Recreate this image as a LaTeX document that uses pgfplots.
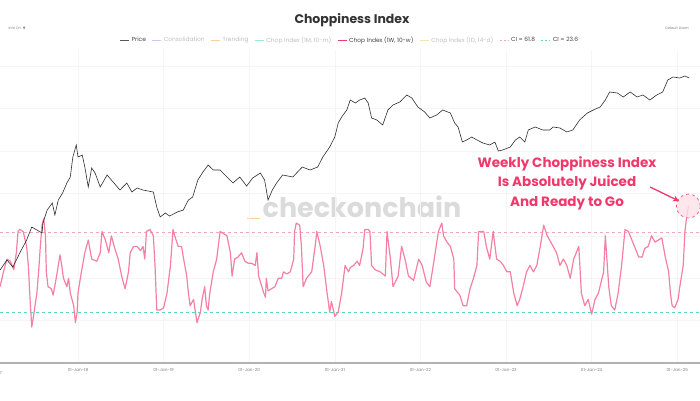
\documentclass[border=0pt]{standalone}
\usepackage{pgfplots}
\pgfplotsset{compat=1.18}
\usepackage{fontspec}
\setmainfont{Poppins}
\newfontfamily\dejavu{DejaVu Sans}
\usetikzlibrary{arrows.meta}
\definecolor{chopc}{RGB}{245,128,163}
\definecolor{annc}{RGB}{240,56,107}
\definecolor{cihi}{RGB}{244,166,189}
\definecolor{cilo}{RGB}{80,222,192}
\definecolor{pricec}{RGB}{45,45,45}
\definecolor{lav}{RGB}{200,200,240}
\definecolor{orng}{RGB}{248,208,160}
\definecolor{teal1}{RGB}{160,232,208}
\definecolor{yel}{RGB}{245,230,176}
\definecolor{txtgray}{RGB}{190,190,190}
\definecolor{titlec}{RGB}{51,51,51}
\begin{document}
\begin{tikzpicture}
\path[use as bounding box] (0,0) rectangle (700pt,400pt);
% ---- title and header texts
\node[font=\fontsize{12.5}{14}\selectfont\bfseries, text=titlec] at (352pt,380pt) {Choppiness Index};
\node[font=\fontsize{3.5}{4}\selectfont, text=gray] at (17pt,372pt) {Info On \ {\dejavu ▼}};
\node[font=\fontsize{3.5}{4}\selectfont, text=gray] at (677pt,372pt) {Default Zoom};
\node[font=\fontsize{4.2}{5}\selectfont, text=gray] at (-8pt,27pt) {01-Jan-17};
% ---- watermark
\node[font=\fontsize{27}{29}\selectfont\bfseries, text=black!14] at (362pt,193pt) {checkonchain};
\draw[orng, line width=1pt] (247pt,182pt) -- (260pt,182pt);
% ---- choppiness axis
\begin{axis}[
  at={(0pt,37pt)}, anchor=south west,
  scale only axis, width=700pt, height=313pt,
  xmin=2017.089, xmax=2025.266, ymin=0, ymax=147.6,
  axis x line*=bottom, axis y line*=left,
  y axis line style={draw=none},
  x axis line style={draw=black!30, line width=1.4pt},
  xtick={2018,2019,2020,2021,2022,2023,2024,2025},
  xticklabels={01-Jan-18,01-Jan-19,01-Jan-20,01-Jan-21,01-Jan-22,01-Jan-23,01-Jan-24,01-Jan-25},
  xticklabel style={font=\fontsize{4.2}{5}\selectfont, text=gray, yshift=-2pt},
  ytick={0,20,40,60,80,100,120,140}, yticklabels={},
  major tick length=0pt,
  xmajorgrids, ymajorgrids,
  grid style={black!4, line width=0.4pt},
  clip=false,
  legend style={at={(0.5,1)}, anchor=south, yshift=2pt, draw=none, fill=none,
    font=\fontsize{5.9}{6.5}\selectfont, legend columns=-1,
    /tikz/every even column/.append style={column sep=4pt}},
  legend image code/.code={\draw[#1] (0pt,0pt) -- (9pt,0pt);},
]
\addlegendimage{black!65, line width=0.8pt}\addlegendentry{\textcolor{black!75}{Price}}
\addlegendimage{lav, line width=0.8pt}\addlegendentry{\textcolor{txtgray}{Consolidation}}
\addlegendimage{orng, line width=0.8pt}\addlegendentry{\textcolor{txtgray}{Trending}}
\addlegendimage{teal1, line width=0.8pt}\addlegendentry{\textcolor{txtgray}{Chop Index (1M, 10-m)}}
\addlegendimage{annc, line width=0.8pt}\addlegendentry{\textcolor{black!75}{Chop Index (1W, 10-w)}}
\addlegendimage{yel, line width=0.8pt}\addlegendentry{\textcolor{txtgray}{Chop Index (1D, 14-d)}}
\addlegendimage{cihi, line width=0.8pt, dash pattern=on 2pt off 2pt}\addlegendentry{\textcolor{black!75}{CI = 61.8}}
\addlegendimage{cilo, line width=0.8pt, dash pattern=on 2pt off 2pt}\addlegendentry{\textcolor{black!75}{CI = 23.6}}
% CI levels
\addplot[forget plot, cihi, line width=0.8pt, dash pattern=on 3pt off 3pt] coordinates {(2017.089,61.8) (2025.266,61.8)};
\addplot[forget plot, cilo, line width=1pt, dash pattern=on 3pt off 3pt] coordinates {(2017.089,23.6) (2025.266,23.6)};
% weekly chop index
\addplot[forget plot, chopc, line width=1.2pt, line join=round] coordinates {
(2017.09,36) (2017.13,43) (2017.17,49) (2017.21,48) (2017.25,44) (2017.28,52) (2017.30,62) (2017.32,63)
(2017.36,62) (2017.40,55) (2017.42,46) (2017.44,30) (2017.46,17) (2017.48,22) (2017.52,33) (2017.54,43)
(2017.56,55) (2017.58,65) (2017.60,68) (2017.62,60) (2017.63,43) (2017.65,36) (2017.69,35) (2017.71,32)
(2017.75,41) (2017.79,51) (2017.81,46) (2017.83,40) (2017.87,36) (2017.89,40) (2017.91,33) (2017.95,27)
(2017.97,19) (2017.99,24) (2018.00,33) (2018.04,43) (2018.08,52) (2018.12,58) (2018.16,49) (2018.22,48)
(2018.26,52) (2018.28,62) (2018.32,58) (2018.36,52) (2018.39,60) (2018.43,54) (2018.47,49) (2018.51,41)
(2018.55,35) (2018.59,43) (2018.61,52) (2018.65,55) (2018.69,55) (2018.73,53) (2018.76,55) (2018.78,49)
(2018.80,62) (2018.84,63) (2018.88,60) (2018.90,46) (2018.92,25) (2018.96,25) (2019.00,26) (2019.04,33)
(2019.08,46) (2019.11,63) (2019.13,60) (2019.17,55) (2019.21,55) (2019.23,50) (2019.27,41) (2019.29,33)
(2019.31,27) (2019.35,30) (2019.39,19) (2019.43,24) (2019.45,30) (2019.48,36) (2019.50,27) (2019.52,25)
(2019.54,33) (2019.58,43) (2019.62,49) (2019.66,62) (2019.70,61) (2019.74,60) (2019.78,52) (2019.80,41)
(2019.83,49) (2019.87,50) (2019.91,52) (2019.95,48) (2019.99,47) (2020.03,47) (2020.07,46) (2020.09,52)
(2020.11,41) (2020.17,33) (2020.19,31) (2020.20,40) (2020.22,34) (2020.26,35) (2020.30,36) (2020.34,40)
(2020.38,40) (2020.40,43) (2020.44,42) (2020.48,43) (2020.52,49) (2020.53,62) (2020.55,66) (2020.59,65)
(2020.61,55) (2020.63,36) (2020.67,40) (2020.73,43) (2020.77,55) (2020.79,62) (2020.83,55) (2020.87,46)
(2020.91,33) (2020.94,24) (2020.96,29) (2021.00,22) (2021.04,24) (2021.08,33) (2021.12,46) (2021.16,43)
(2021.18,45) (2021.22,46) (2021.26,48) (2021.29,46) (2021.33,54) (2021.35,63) (2021.39,63) (2021.41,62)
(2021.43,46) (2021.47,44) (2021.53,43) (2021.59,41) (2021.61,62) (2021.65,49) (2021.68,36) (2021.74,41)
(2021.78,55) (2021.82,49) (2021.86,41) (2021.92,39) (2021.98,49) (2022.02,46) (2022.07,38) (2022.11,36)
(2022.15,46) (2022.21,62) (2022.25,66) (2022.27,60) (2022.31,57) (2022.35,55) (2022.39,49) (2022.40,35)
(2022.46,32) (2022.50,27) (2022.54,27) (2022.58,35) (2022.62,40) (2022.66,46) (2022.68,62) (2022.74,62)
(2022.77,55) (2022.81,49) (2022.85,62) (2022.89,49) (2022.93,48) (2022.97,46) (2023.01,43) (2023.05,43)
(2023.09,33) (2023.13,27) (2023.16,30) (2023.20,36) (2023.24,43) (2023.28,46) (2023.32,43) (2023.36,46)
(2023.40,55) (2023.44,65) (2023.48,60) (2023.51,58) (2023.55,55) (2023.59,52) (2023.63,46) (2023.67,49)
(2023.71,46) (2023.75,40) (2023.79,49) (2023.85,55) (2023.88,33) (2023.92,27) (2023.96,30) (2024.00,23)
(2024.04,30) (2024.08,33) (2024.14,43) (2024.16,60) (2024.20,36) (2024.23,27) (2024.27,25) (2024.31,33)
(2024.35,46) (2024.39,63) (2024.43,62) (2024.47,58) (2024.51,54) (2024.55,50) (2024.59,50) (2024.62,54)
(2024.66,55) (2024.70,60) (2024.74,57) (2024.78,58) (2024.82,59) (2024.86,50) (2024.90,43) (2024.92,33)
(2024.94,27) (2024.97,26) (2025.01,30) (2025.03,36) (2025.07,46) (2025.09,62) (2025.11,69) (2025.13,74)
};
% highlight
\draw[annc!80, dashed, line width=0.7pt, fill=annc!15, fill opacity=0.8] (axis cs:2025.13,74) circle[radius=12pt];
\end{axis}
% ---- price axis (log)
\begin{axis}[
  at={(0pt,37pt)}, anchor=south west,
  scale only axis, width=700pt, height=313pt,
  xmin=2017.089, xmax=2025.266, ymode=log, ymin=84, ymax=211800,
  axis lines=none,
]
\addplot[pricec, line width=0.6pt] coordinates {
(2017.09,861) (2017.17,1105) (2017.24,928) (2017.32,1318) (2017.40,1823) (2017.46,2524) (2017.52,2342)
(2017.58,2173) (2017.59,2790) (2017.64,3863) (2017.70,4603) (2017.73,3409) (2017.77,4963) (2017.82,5911)
(2017.87,7593) (2017.91,8825) (2017.94,14550) (2017.98,19660) (2018.00,14550) (2018.05,15300) (2018.08,11330)
(2018.12,6870) (2018.16,11050) (2018.20,9750) (2018.26,6870) (2018.34,9280) (2018.41,7786) (2018.49,6370)
(2018.57,7593) (2018.63,6060) (2018.69,6700) (2018.76,6370) (2018.88,6060) (2018.92,4165) (2018.96,3243)
(2019.02,3583) (2019.07,3325) (2019.16,3674) (2019.23,3863) (2019.29,4963) (2019.34,5350) (2019.40,8186)
(2019.46,10000) (2019.52,11910) (2019.58,10510) (2019.66,10510) (2019.74,8825) (2019.81,7593) (2019.89,8825)
(2019.97,7042) (2020.04,8606) (2020.13,9750) (2020.18,8186) (2020.22,4963) (2020.27,6370) (2020.32,7593)
(2020.39,9280) (2020.51,8825) (2020.62,11330) (2020.71,10510) (2020.80,11330) (2020.86,14550) (2020.94,18690)
(2021.00,24010) (2021.04,34090) (2021.08,39620) (2021.14,47200) (2021.18,60600) (2021.24,56230) (2021.29,60600)
(2021.35,63700) (2021.39,56230) (2021.43,38640) (2021.49,36750) (2021.56,32430) (2021.62,47200) (2021.68,53500)
(2021.76,57660) (2021.84,68700) (2021.90,63700) (2021.97,50880) (2022.05,44880) (2022.11,38640) (2022.19,41650)
(2022.26,47200) (2022.35,43770) (2022.40,34090) (2022.44,30840) (2022.49,21180) (2022.54,22280) (2022.60,24010)
(2022.66,22280) (2022.73,20660) (2022.81,19660) (2022.87,21180) (2022.91,16920) (2022.96,17340) (2023.05,18690)
(2023.11,22280) (2023.16,24010) (2023.22,21180) (2023.26,28610) (2023.34,30840) (2023.43,28610) (2023.51,28610)
(2023.55,30840) (2023.63,30070) (2023.71,27220) (2023.78,28610) (2023.86,36750) (2023.95,43770) (2024.02,47200)
(2024.10,50880) (2024.16,60600) (2024.21,74050) (2024.30,72220) (2024.37,65350) (2024.45,74050) (2024.53,65350)
(2024.60,68700) (2024.68,60600) (2024.76,68700) (2024.83,74050) (2024.89,100000) (2024.95,107800) (2025.03,105100)
(2025.09,110500) (2025.14,105100)
};
\end{axis}
% ---- annotation
\node[font=\fontsize{13.5}{19.5}\selectfont\bfseries, text=annc, align=center] at (567pt,217pt)
  {Weekly Choppiness Index\\Is Absolutely Juiced\\And Ready to Go};
\draw[annc, line width=1.3pt, -{Stealth[length=6pt,width=6pt]}] (650pt,213pt) -- (679pt,199pt);
\end{tikzpicture}
\end{document}
